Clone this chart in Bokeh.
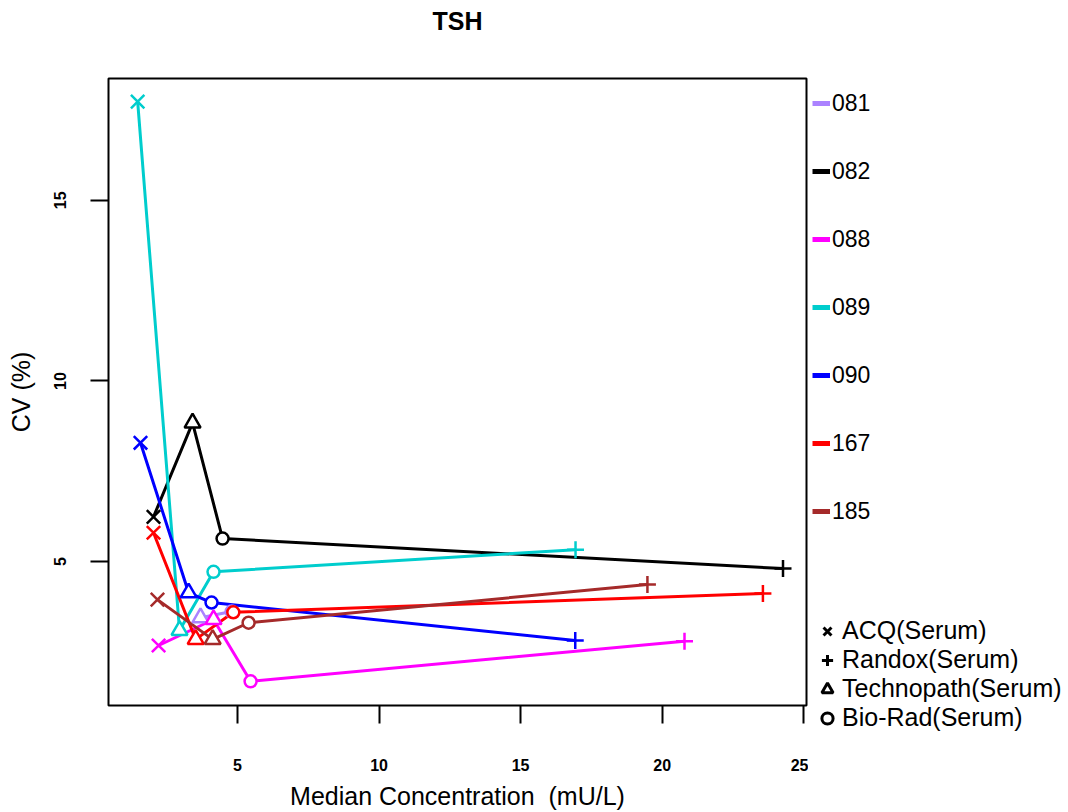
import math
from bokeh.plotting import figure
from bokeh.layouts import row, column
from bokeh.models import FixedTicker, Legend, LegendItem, ColumnDataSource, Range1d, Title
from bokeh.embed import file_html
from bokeh.resources import INLINE

nan = float("nan")

# ---- data -------------------------------------------------------------
series_names = ["081", "082", "088", "089", "090", "167", "185"]
series_colors = ["#AB82FF", "#000000", "#FF00FF", "#00CDCD", "#0000FF", "#FF0000", "#A52A2A"]

manufacturers = ["ACQ(Serum)", "Randox(Serum)", "Technopath(Serum)", "Bio-Rad(Serum)"]
manufacturer_markers = ["x", "cross", "triangle", "circle"]

# values per series in the order ACQ, Randox, Technopath, Bio-Rad (nan = not reported)
conc_081 = [nan, nan, 3.69, 4.79]
cv_081 = [nan, nan, 3.45, 3.62]
conc_082 = [2.03, 24.27, 3.41, 4.47]
cv_082 = [6.24, 4.81, 8.84, 5.64]
conc_088 = [2.21, 20.79, 4.15, 5.46]
cv_088 = [2.68, 2.80, 3.40, 1.69]
conc_089 = [1.47, 16.94, 2.95, 4.15]
cv_089 = [17.73, 5.33, 3.10, 4.72]
conc_090 = [1.57, 16.93, 3.27, 4.08]
cv_090 = [8.29, 2.82, 4.14, 3.87]
conc_167 = [2.03, 23.56, 3.52, 4.85]
cv_167 = [5.80, 4.12, 2.85, 3.60]
conc_185 = [2.17, 19.48, 4.12, 5.39]
cv_185 = [3.95, 4.37, 2.85, 3.31]

x_ticks = [5, 10, 15, 20, 25]
y_ticks = [5, 10, 15]

concs = [conc_081, conc_082, conc_088, conc_089, conc_090, conc_167, conc_185]
cvs = [cv_081, cv_082, cv_088, cv_089, cv_090, cv_167, cv_185]

FONT = "Liberation Sans"

p = figure(width=808, height=812, output_backend="svg", toolbar_location=None,
           x_range=Range1d(0.44, 25.1), y_range=Range1d(1.02, 18.37),
           min_border_left=108, min_border_right=2, min_border_top=78, min_border_bottom=106)
p.background_fill_color = "white"
p.border_fill_color = "white"
p.outline_line_color = "black"
p.outline_line_width = 2
p.xgrid.visible = False
p.ygrid.visible = False

# real title on top, blank spacer title between it and the frame
p.title.text = "TSH"
p.title.align = "center"
p.title.text_font = FONT
p.title.text_font_size = "25px"
p.title.text_font_style = "bold"
p.title.text_color = "black"
p.title.standoff = 0
spacer_title = Title(text=" ", text_font=FONT, text_font_size="25px", standoff=14)
p.add_layout(spacer_title, "above")

for ax in (p.xaxis[0], p.yaxis[0]):
    ax.axis_line_color = None
    ax.major_tick_in = 0
    ax.major_tick_out = 18
    ax.major_tick_line_width = 2
    ax.major_tick_line_color = "black"
    ax.minor_tick_line_color = None
    ax.major_label_text_font = FONT
    ax.major_label_text_font_size = "16px"
    ax.major_label_text_font_style = "bold"
    ax.major_label_text_color = "black"
    ax.axis_label_text_font = FONT
    ax.axis_label_text_font_size = "25px"
    ax.axis_label_text_font_style = "normal"
    ax.axis_label_text_color = "black"

p.xaxis.ticker = FixedTicker(ticks=x_ticks)
p.yaxis.ticker = FixedTicker(ticks=y_ticks)
p.xaxis.axis_label = "Median Concentration \u00a0(mU/L)"
p.yaxis.axis_label = "CV (%)"
p.xaxis.major_label_standoff = 35
p.xaxis.axis_label_standoff = 8
p.yaxis.major_label_standoff = 24
p.yaxis.axis_label_standoff = 17
p.yaxis.major_label_orientation = "vertical"

# ---- lines (points joined in order of concentration) ----
for name, color, xs, ys in zip(series_names, series_colors, concs, cvs):
    pts = sorted([(a, b) for a, b in zip(xs, ys) if not (math.isnan(a) or math.isnan(b))])
    p.line([a for a, _ in pts], [b for _, b in pts], line_color=color, line_width=3)

# ---- markers by manufacturer ----
marker_sizes = {"x": 19, "cross": 17, "triangle": 16, "circle": 12}
for mi, (manu, mk) in enumerate(zip(manufacturers, manufacturer_markers)):
    xs, ys, cs = [], [], []
    for color, cx, cy in zip(series_colors, concs, cvs):
        if not (math.isnan(cx[mi]) or math.isnan(cy[mi])):
            xs.append(cx[mi]); ys.append(cy[mi]); cs.append(color)
    src = ColumnDataSource(dict(x=xs, y=ys, c=cs))
    fill = "white" if mk in ("triangle", "circle") else None
    p.scatter("x", "y", source=src, marker=mk, size=marker_sizes[mk], line_color="c",
              line_width=2.5, fill_color=fill)

# ---- legend panel to the right of the plot ----
lg = figure(width=260, height=812, output_backend="svg", toolbar_location=None,
            x_range=Range1d(0, 1), y_range=Range1d(0, 1),
            min_border_left=0, min_border_right=0, min_border_top=0, min_border_bottom=0)
lg.axis.visible = False
lg.grid.visible = False
lg.outline_line_color = None
lg.background_fill_color = "white"
lg.border_fill_color = "white"

series_items = []
for name, color in zip(series_names, series_colors):
    r = lg.line([nan], [nan], line_color=color, line_width=5)
    series_items.append(LegendItem(label=name, renderers=[r]))
leg1 = Legend(items=series_items, location=(4, 287), orientation="vertical",
              glyph_width=18, glyph_height=28, label_height=28, spacing=40,
              label_standoff=2, padding=0, margin=0, border_line_color=None,
              background_fill_alpha=0, label_text_font=FONT, label_text_font_size="23px",
              label_text_color="black", label_text_baseline="middle")
lg.add_layout(leg1, "center")

manu_items = []
for manu, mk in zip(manufacturers, manufacturer_markers):
    r = lg.scatter([nan], [nan], marker=mk, line_color="black", line_width=3, fill_color=None)
    manu_items.append(LegendItem(label=manu, renderers=[r]))
leg2 = Legend(items=manu_items, location=(4, 80), orientation="vertical",
              glyph_width=30, glyph_height=28, label_height=28, spacing=0,
              label_standoff=0, padding=0, margin=0, border_line_color=None,
              background_fill_alpha=0, label_text_font=FONT, label_text_font_size="25px",
              label_text_color="black", label_text_baseline="middle")
lg.add_layout(leg2, "center")

layout = row(p, column(lg, spacing=0), spacing=0)
open("out.html", "w").write(file_html(layout, INLINE))
